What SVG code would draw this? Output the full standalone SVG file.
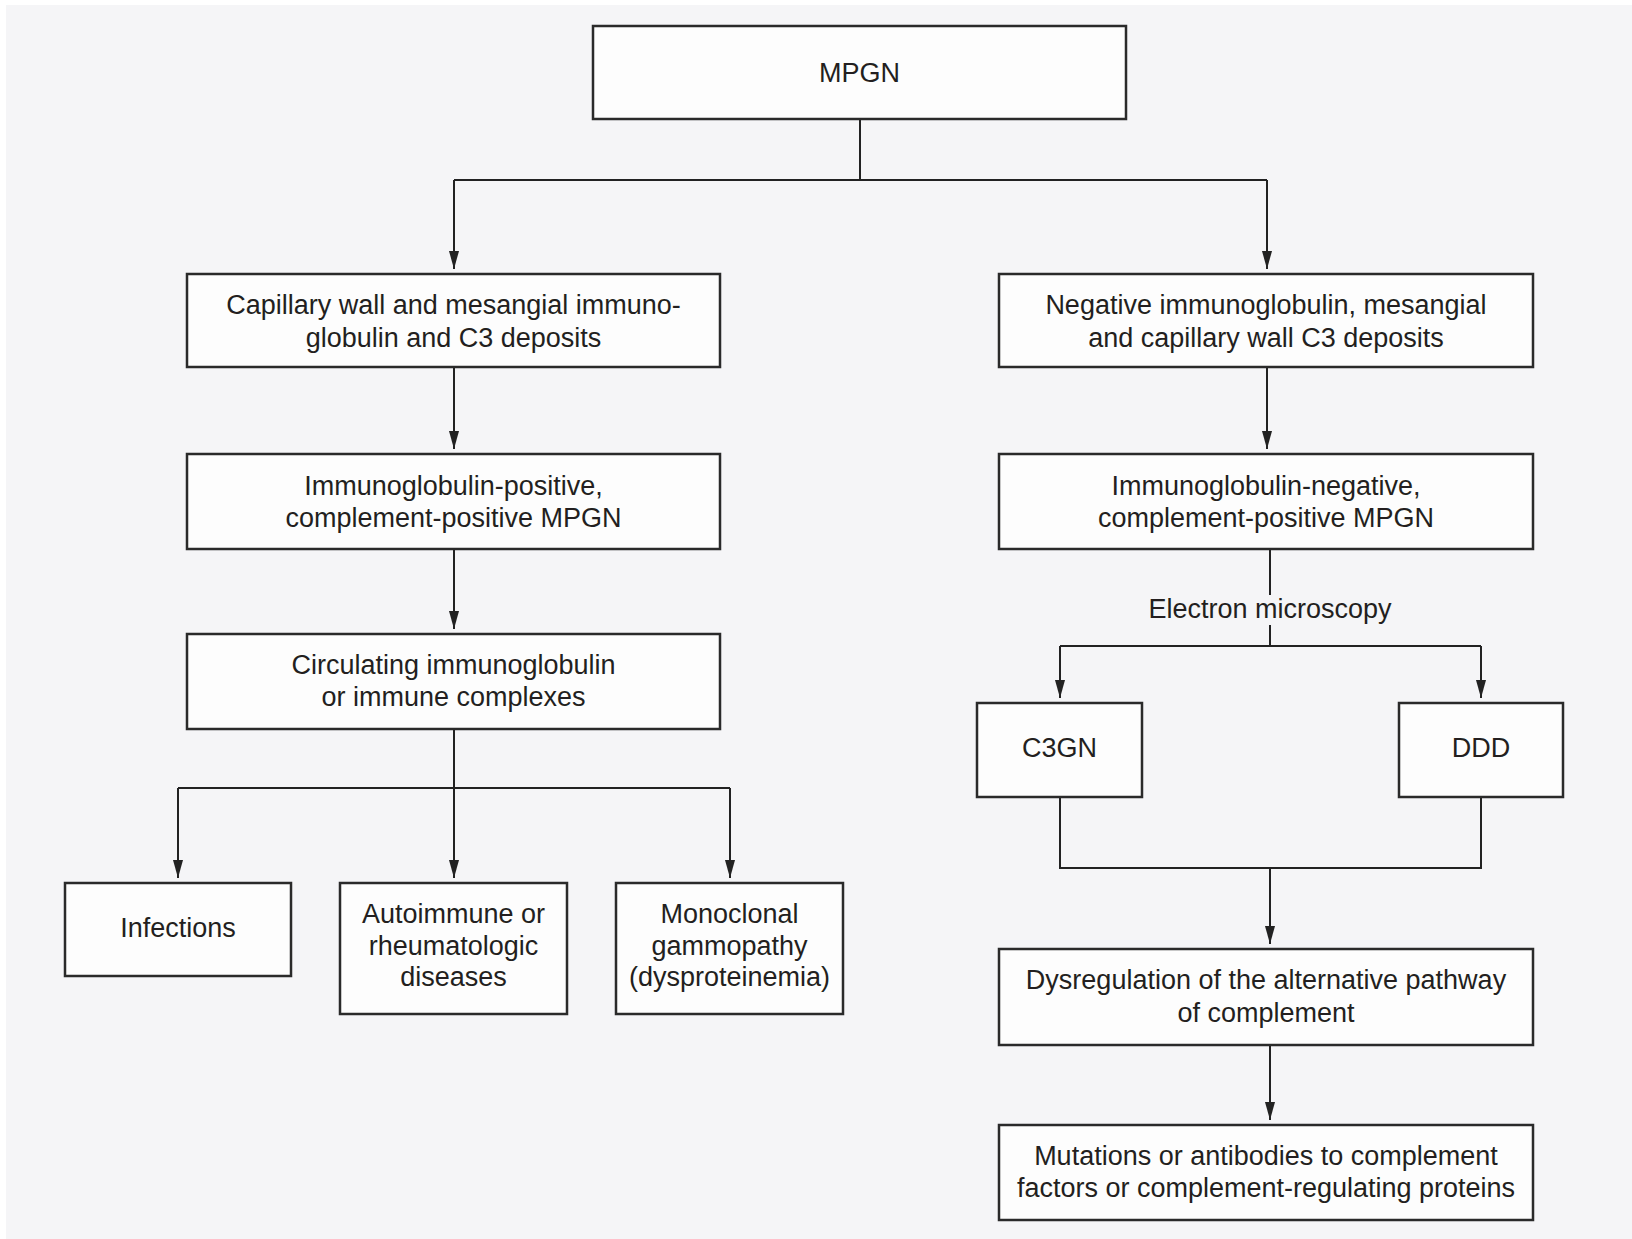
<svg xmlns="http://www.w3.org/2000/svg" width="1632" height="1239" viewBox="0 0 1632 1239">
<defs>
<marker id="arr" markerUnits="userSpaceOnUse" viewBox="0 0 18 10" refX="18" refY="5" markerWidth="18" markerHeight="10" orient="auto">
<path d="M0,0 L18,5 L0,10 z" fill="#222"/>
</marker>
<style>
.box{fill:#fdfdfd;stroke:#2a2a2a;stroke-width:2.5}
.t{font-family:"Liberation Sans",Arial,sans-serif;font-size:27px;fill:#231f20;text-anchor:middle}
.c{fill:none;stroke:#222;stroke-width:2}
.a{fill:none;stroke:#222;stroke-width:2;marker-end:url(#arr)}
</style>
</defs>
<rect x="0" y="0" width="1632" height="1239" fill="#ffffff"/>
<rect x="6" y="5" width="1626" height="1234" fill="#f5f5f7"/>

<g id="connectors">
<path class="c" d="M860,119 V180 M454,180 H1267"/>
<path class="a" d="M454,180 V269"/>
<path class="a" d="M1267,180 V269"/>
<path class="a" d="M454,367 V449"/>
<path class="a" d="M1267,367 V449"/>
<path class="a" d="M454,549 V629"/>
<path class="c" d="M454,729 V788 M178,788 H730"/>
<path class="a" d="M178,788 V878"/>
<path class="a" d="M454,788 V878"/>
<path class="a" d="M730,788 V878"/>
<path class="c" d="M1270,549 V595 M1270,625 V646 M1060,646 H1481"/>
<path class="a" d="M1060,646 V698"/>
<path class="a" d="M1481,646 V698"/>
<path class="c" d="M1060,797 V868 H1481 V797"/>
<path class="a" d="M1270,868 V944"/>
<path class="a" d="M1270,1045 V1120"/>
<text class="t" x="1270" y="618">Electron microscopy</text>
</g>

<g id="mpgn"><rect class="box" x="593" y="26" width="533" height="93"/><text class="t" x="859.5" y="82">MPGN</text></g>
<g id="ig-deposits"><rect class="box" x="187" y="274" width="533" height="93"/><text class="t" x="453.5" y="314">Capillary wall and mesangial immuno-</text><text class="t" x="453.5" y="347">globulin and C3 deposits</text></g>
<g id="c3-deposits"><rect class="box" x="999" y="274" width="534" height="93"/><text class="t" x="1266" y="314">Negative immunoglobulin, mesangial</text><text class="t" x="1266" y="347">and capillary wall C3 deposits</text></g>
<g id="ig-positive"><rect class="box" x="187" y="454" width="533" height="95"/><text class="t" x="453.5" y="495">Immunoglobulin-positive,</text><text class="t" x="453.5" y="527">complement-positive MPGN</text></g>
<g id="ig-negative"><rect class="box" x="999" y="454" width="534" height="95"/><text class="t" x="1266" y="495">Immunoglobulin-negative,</text><text class="t" x="1266" y="527">complement-positive MPGN</text></g>
<g id="circulating"><rect class="box" x="187" y="634" width="533" height="95"/><text class="t" x="453.5" y="674">Circulating immunoglobulin</text><text class="t" x="453.5" y="706">or immune complexes</text></g>
<g id="c3gn"><rect class="box" x="977" y="703" width="165" height="94"/><text class="t" x="1059.5" y="757">C3GN</text></g>
<g id="ddd"><rect class="box" x="1399" y="703" width="164" height="94"/><text class="t" x="1481" y="757">DDD</text></g>
<g id="infections"><rect class="box" x="65" y="883" width="226" height="93"/><text class="t" x="178" y="937">Infections</text></g>
<g id="autoimmune"><rect class="box" x="340" y="883" width="227" height="131"/><text class="t" x="453.5" y="923">Autoimmune or</text><text class="t" x="453.5" y="955">rheumatologic</text><text class="t" x="453.5" y="986">diseases</text></g>
<g id="monoclonal"><rect class="box" x="616" y="883" width="227" height="131"/><text class="t" x="729.5" y="923">Monoclonal</text><text class="t" x="729.5" y="955">gammopathy</text><text class="t" x="729.5" y="986">(dysproteinemia)</text></g>
<g id="dysregulation"><rect class="box" x="999" y="949" width="534" height="96"/><text class="t" x="1266" y="989">Dysregulation of the alternative pathway</text><text class="t" x="1266" y="1022">of complement</text></g>
<g id="mutations"><rect class="box" x="999" y="1125" width="534" height="95"/><text class="t" x="1266" y="1165">Mutations or antibodies to complement</text><text class="t" x="1266" y="1197">factors or complement-regulating proteins</text></g>
</svg>
